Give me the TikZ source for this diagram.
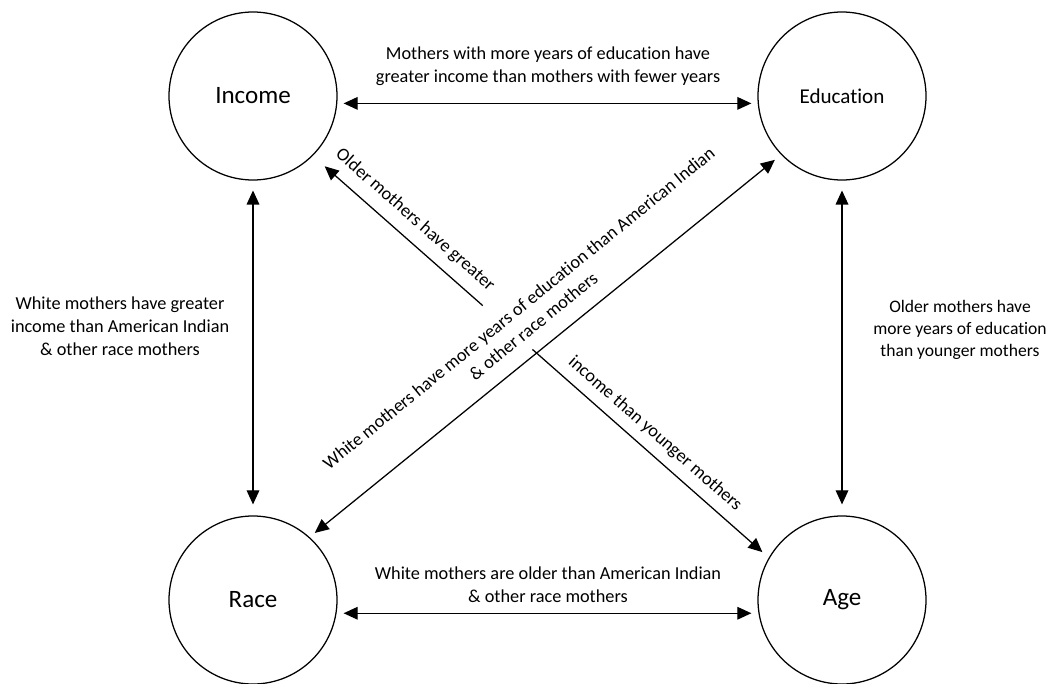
\documentclass[tikz,border=0pt]{standalone}
\usepackage{fontspec}
\setmainfont{Carlito}[Ligatures=NoCommon]
\usepackage{tikz}
\usetikzlibrary{arrows.meta,calc}

\begin{document}
\begin{tikzpicture}[
    >={Triangle[length=10pt, width=9pt]},
    factor/.style={circle, draw, line width=0.9pt, minimum size=4.2cm,
                   inner sep=0pt, font=\fontsize{17.8}{21}\selectfont},
    note/.style={align=center, inner sep=0pt,
                 font=\fontsize{13}{16.4}\selectfont},
    link/.style={line width=0.9pt},
  ]
  \useasboundingbox (0,0) rectangle (26.25,17.075);

  % Factors
  \node[factor] (inc) at (6.325, 14.675) {Income};
  \node[factor, font=\fontsize{15}{18}\selectfont] (edu) at (21.05, 14.675) {Education};
  \node[factor] (race) at (6.325, 2.075) {Race};
  \node[factor] (age) at (21.05, 2.075) {Age};

  % Gap in the age -> income line
  \coordinate (gapI) at ($(inc.-45)!0.3726!(age.150)$);
  \coordinate (gapA) at ($(inc.-45)!0.4818!(age.150)$);

  % Relations
  \draw[link, <->, shorten <=4.5pt, shorten >=4.5pt] (inc.-5) -- (edu.185);
  \draw[link, <->, shorten <=5pt, shorten >=5pt] (race.-9) -- (age.189);
  \draw[link, <->, shorten <=7pt, shorten >=7.8pt] (inc.south) -- (race.north);
  \draw[link, <->, shorten <=7pt, shorten >=7.8pt] (edu.south) -- (age.north);
  \draw[link, <->, shorten <=4.7pt, shorten >=5.7pt] (race.48) -- (edu.224);
  \draw[link, ->, shorten >=11.2pt] (gapI) -- (inc.-45);
  \draw[link, ->, shorten >=6pt] (gapA) -- (age.150);

  % Labels
  \node[note] (l1) at (13.7, 15.41) {Mothers with more years of education have\\greater income than mothers with fewer years};
  \node[note] (l2) at (13.7, 2.45) {White mothers are older than American Indian\\\& other race mothers};
  \node[note] (l3) at (3.0, 8.925) {White mothers have greater\\income than American Indian\\\& other race mothers};
  \node[note, font=\fontsize{12.5}{15.8}\selectfont] (l4) at (24.0, 8.825) {Older mothers have\\more years of education\\than younger mothers};
  \node[note, rotate=-41.3] (l5) at (10.375, 11.575) {Older mothers have greater};
  \node[note, rotate=-41.3] (l6) at (16.375, 6.225) {income than younger mothers};
  \node[note, rotate=39.1] (l7) at (13.15, 9.15) {White mothers have more years of education than American Indian\\\& other race mothers};
\end{tikzpicture}
\end{document}
